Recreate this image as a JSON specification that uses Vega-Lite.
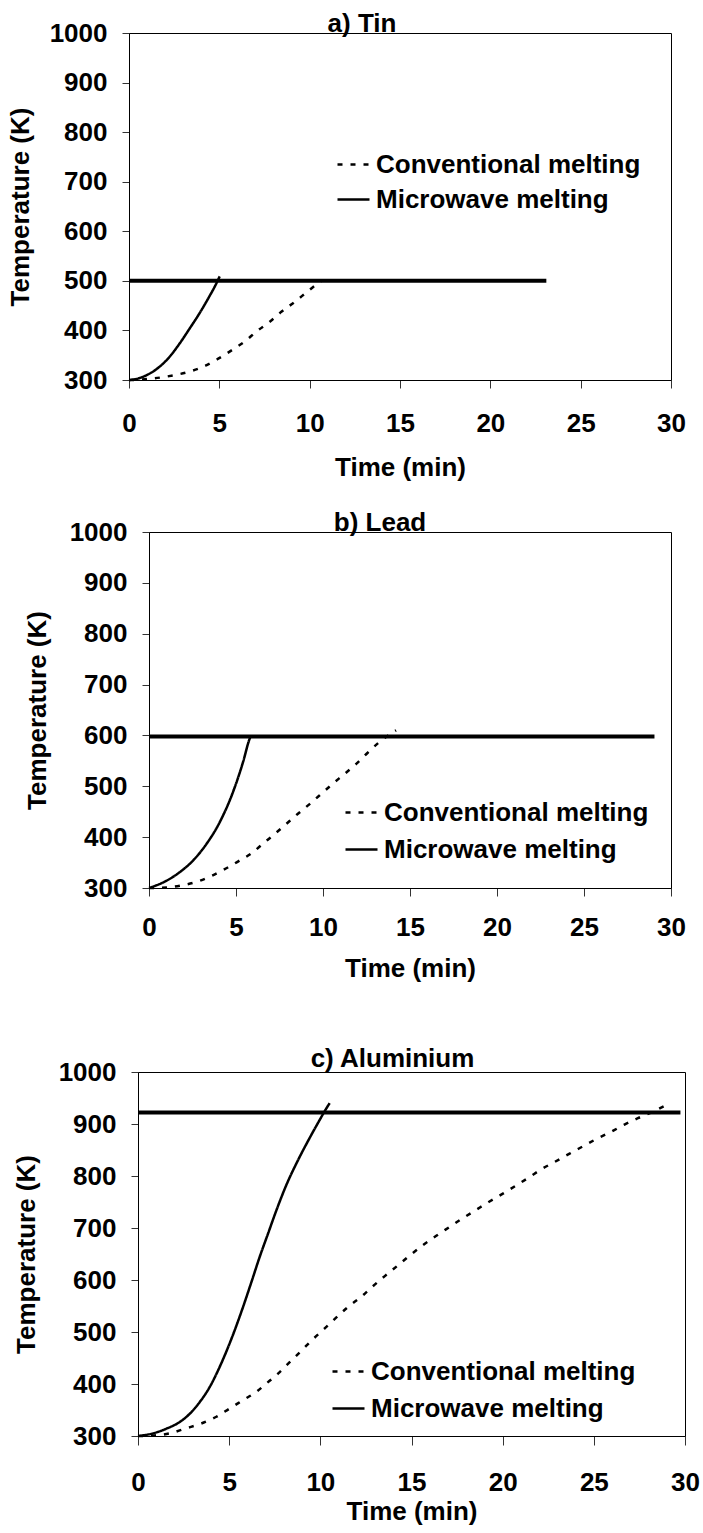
{
  "$schema": "https://vega.github.io/schema/vega-lite/v6.json",
  "background": "white",
  "padding": {"left": 0, "top": 10, "right": 0, "bottom": 0},
  "datasets": {
    "tin": [
      {"series": "Conventional melting", "t": 0, "T": 300},
      {"series": "Conventional melting", "t": 0.5, "T": 300.5},
      {"series": "Conventional melting", "t": 1.06, "T": 302},
      {"series": "Conventional melting", "t": 2.53, "T": 310},
      {"series": "Conventional melting", "t": 3.36, "T": 317},
      {"series": "Conventional melting", "t": 4.3, "T": 330},
      {"series": "Conventional melting", "t": 4.94, "T": 343},
      {"series": "Conventional melting", "t": 5.77, "T": 362},
      {"series": "Conventional melting", "t": 6.42, "T": 378},
      {"series": "Conventional melting", "t": 7.06, "T": 398},
      {"series": "Conventional melting", "t": 7.81, "T": 418},
      {"series": "Conventional melting", "t": 8.45, "T": 438},
      {"series": "Conventional melting", "t": 9.19, "T": 458},
      {"series": "Conventional melting", "t": 9.83, "T": 477},
      {"series": "Conventional melting", "t": 10.46, "T": 495},
      {"series": "Conventional melting", "t": 10.65, "T": 500},
      {"series": "Microwave melting", "t": 0, "T": 300},
      {"series": "Microwave melting", "t": 0.4, "T": 302},
      {"series": "Microwave melting", "t": 0.87, "T": 308},
      {"series": "Microwave melting", "t": 1.7, "T": 327},
      {"series": "Microwave melting", "t": 2.25, "T": 347},
      {"series": "Microwave melting", "t": 2.81, "T": 374},
      {"series": "Microwave melting", "t": 3.36, "T": 404},
      {"series": "Microwave melting", "t": 3.91, "T": 435},
      {"series": "Microwave melting", "t": 4.47, "T": 470},
      {"series": "Microwave melting", "t": 4.74, "T": 488},
      {"series": "Microwave melting", "t": 5.02, "T": 509},
      {"series": "Melting point", "t": 0, "T": 500},
      {"series": "Melting point", "t": 23.1, "T": 500}
    ],
    "lead": [
      {"series": "Conventional melting", "t": 0, "T": 300},
      {"series": "Conventional melting", "t": 1.0, "T": 301},
      {"series": "Conventional melting", "t": 1.86, "T": 305},
      {"series": "Conventional melting", "t": 2.72, "T": 312},
      {"series": "Conventional melting", "t": 3.48, "T": 322},
      {"series": "Conventional melting", "t": 4.35, "T": 337},
      {"series": "Conventional melting", "t": 5.11, "T": 352},
      {"series": "Conventional melting", "t": 5.88, "T": 368},
      {"series": "Conventional melting", "t": 6.55, "T": 387},
      {"series": "Conventional melting", "t": 7.22, "T": 406},
      {"series": "Conventional melting", "t": 7.89, "T": 426},
      {"series": "Conventional melting", "t": 8.56, "T": 446},
      {"series": "Conventional melting", "t": 9.23, "T": 465},
      {"series": "Conventional melting", "t": 9.9, "T": 485},
      {"series": "Conventional melting", "t": 10.56, "T": 505},
      {"series": "Conventional melting", "t": 11.23, "T": 524},
      {"series": "Conventional melting", "t": 11.91, "T": 544},
      {"series": "Conventional melting", "t": 12.57, "T": 566},
      {"series": "Conventional melting", "t": 13.24, "T": 587},
      {"series": "Conventional melting", "t": 14.01, "T": 606},
      {"series": "Conventional melting", "t": 14.2, "T": 610},
      {"series": "Microwave melting", "t": 0, "T": 300},
      {"series": "Microwave melting", "t": 0.99, "T": 314},
      {"series": "Microwave melting", "t": 1.76, "T": 331},
      {"series": "Microwave melting", "t": 2.53, "T": 354},
      {"series": "Microwave melting", "t": 3.29, "T": 386},
      {"series": "Microwave melting", "t": 4.06, "T": 429},
      {"series": "Microwave melting", "t": 4.82, "T": 488},
      {"series": "Microwave melting", "t": 5.4, "T": 547},
      {"series": "Microwave melting", "t": 5.78, "T": 593},
      {"series": "Microwave melting", "t": 5.84, "T": 598},
      {"series": "Melting point", "t": 0, "T": 598},
      {"series": "Melting point", "t": 29.05, "T": 598}
    ],
    "aluminium": [
      {"series": "Conventional melting", "t": 0, "T": 300},
      {"series": "Conventional melting", "t": 0.9, "T": 301},
      {"series": "Conventional melting", "t": 1.74, "T": 305},
      {"series": "Conventional melting", "t": 2.56, "T": 314},
      {"series": "Conventional melting", "t": 3.47, "T": 324},
      {"series": "Conventional melting", "t": 4.3, "T": 337},
      {"series": "Conventional melting", "t": 5.03, "T": 353},
      {"series": "Conventional melting", "t": 5.76, "T": 369},
      {"series": "Conventional melting", "t": 6.49, "T": 385},
      {"series": "Conventional melting", "t": 7.04, "T": 401},
      {"series": "Conventional melting", "t": 7.68, "T": 420},
      {"series": "Conventional melting", "t": 8.32, "T": 442},
      {"series": "Conventional melting", "t": 8.96, "T": 464},
      {"series": "Conventional melting", "t": 9.59, "T": 486},
      {"series": "Conventional melting", "t": 10.24, "T": 507},
      {"series": "Conventional melting", "t": 10.88, "T": 528},
      {"series": "Conventional melting", "t": 11.51, "T": 548},
      {"series": "Conventional melting", "t": 12.25, "T": 568},
      {"series": "Conventional melting", "t": 12.88, "T": 588},
      {"series": "Conventional melting", "t": 13.52, "T": 607},
      {"series": "Conventional melting", "t": 14.25, "T": 628},
      {"series": "Conventional melting", "t": 14.9, "T": 647},
      {"series": "Conventional melting", "t": 15.63, "T": 667},
      {"series": "Conventional melting", "t": 16.36, "T": 685},
      {"series": "Conventional melting", "t": 17.09, "T": 702},
      {"series": "Conventional melting", "t": 17.82, "T": 719},
      {"series": "Conventional melting", "t": 18.55, "T": 735},
      {"series": "Conventional melting", "t": 19.28, "T": 751},
      {"series": "Conventional melting", "t": 20.01, "T": 766},
      {"series": "Conventional melting", "t": 20.75, "T": 782},
      {"series": "Conventional melting", "t": 21.47, "T": 798},
      {"series": "Conventional melting", "t": 22.12, "T": 813},
      {"series": "Conventional melting", "t": 22.85, "T": 827},
      {"series": "Conventional melting", "t": 23.67, "T": 843},
      {"series": "Conventional melting", "t": 24.4, "T": 857},
      {"series": "Conventional melting", "t": 25.13, "T": 871},
      {"series": "Conventional melting", "t": 25.95, "T": 885},
      {"series": "Conventional melting", "t": 26.68, "T": 899},
      {"series": "Conventional melting", "t": 27.47, "T": 912},
      {"series": "Conventional melting", "t": 28.33, "T": 925},
      {"series": "Conventional melting", "t": 29.11, "T": 939},
      {"series": "Microwave melting", "t": 0, "T": 300},
      {"series": "Microwave melting", "t": 0.82, "T": 305},
      {"series": "Microwave melting", "t": 1.55, "T": 314},
      {"series": "Microwave melting", "t": 2.29, "T": 327},
      {"series": "Microwave melting", "t": 2.93, "T": 346},
      {"series": "Microwave melting", "t": 3.38, "T": 365},
      {"series": "Microwave melting", "t": 3.93, "T": 394},
      {"series": "Microwave melting", "t": 4.39, "T": 426},
      {"series": "Microwave melting", "t": 4.84, "T": 462},
      {"series": "Microwave melting", "t": 5.3, "T": 503},
      {"series": "Microwave melting", "t": 5.76, "T": 548},
      {"series": "Microwave melting", "t": 6.22, "T": 596},
      {"series": "Microwave melting", "t": 6.67, "T": 644},
      {"series": "Microwave melting", "t": 7.13, "T": 689},
      {"series": "Microwave melting", "t": 7.59, "T": 734},
      {"series": "Microwave melting", "t": 8.14, "T": 783},
      {"series": "Microwave melting", "t": 8.77, "T": 830},
      {"series": "Microwave melting", "t": 9.32, "T": 867},
      {"series": "Microwave melting", "t": 9.87, "T": 902},
      {"series": "Microwave melting", "t": 10.33, "T": 930},
      {"series": "Microwave melting", "t": 10.51, "T": 940},
      {"series": "Melting point", "t": 0, "T": 922},
      {"series": "Melting point", "t": 29.75, "T": 922}
    ]
  },
  "spacing": 63,
  "resolve": {"scale": {"strokeDash": "independent"}, "legend": {"strokeDash": "independent"}},
  "vconcat": [
    {
      "spacing": 28,
      "resolve": {"scale": {"strokeDash": "independent"}, "legend": {"strokeDash": "independent"}},
      "vconcat": [
        {
          "spacing": 0,
          "hconcat": [
            {"width": 6, "height": 10, "data": {"values": []}, "mark": "point", "view": {"stroke": null}},
            {
              "width": 542,
              "height": 347,
              "title": {"text": "a) Tin", "dx": -38, "offset": -17},
              "data": {"name": "tin"},
              "encoding": {
                "x": {"field": "t", "type": "quantitative", "scale": {"domain": [0, 30], "nice": false},
                      "axis": {"title": "Time (min)", "values": [0, 5, 10, 15, 20, 25, 30], "labelPadding": 22, "titlePadding": 18}},
                "y": {"field": "T", "type": "quantitative", "scale": {"domain": [300, 1000], "nice": false, "zero": false},
                      "axis": {"title": "Temperature (K)", "values": [300, 400, 500, 600, 700, 800, 900, 1000], "titlePadding": 16}}
              },
              "layer": [
                {
                  "transform": [{"filter": "datum.series !== 'Melting point'"}],
                  "mark": {"type": "line", "interpolate": "monotone", "strokeWidth": 2.5, "color": "black"},
                  "encoding": {
                    "strokeDash": {"field": "series", "type": "nominal",
                      "scale": {"domain": ["Conventional melting", "Microwave melting"], "range": [[5, 8], [1, 0]]},
                      "legend": {"orient": "none", "legendX": 336, "legendY": 114, "rowPadding": 4}}
                  }
                },
                {
                  "transform": [{"filter": "datum.series === 'Melting point'"}],
                  "mark": {"type": "line", "strokeWidth": 4, "color": "black"}
                }
              ]
            }
          ]
        },
        {
          "spacing": 0,
          "hconcat": [
            {"width": 23, "height": 10, "data": {"values": []}, "mark": "point", "view": {"stroke": null}},
            {
              "width": 522,
              "height": 356,
              "title": {"text": "b) Lead", "dx": -30, "offset": -17},
              "data": {"name": "lead"},
              "encoding": {
                "x": {"field": "t", "type": "quantitative", "scale": {"domain": [0, 30], "nice": false},
                      "axis": {"title": "Time (min)", "values": [0, 5, 10, 15, 20, 25, 30], "labelPadding": 18, "titlePadding": 15}},
                "y": {"field": "T", "type": "quantitative", "scale": {"domain": [300, 1000], "nice": false, "zero": false},
                      "axis": {"title": "Temperature (K)", "values": [300, 400, 500, 600, 700, 800, 900, 1000], "titlePadding": 19}}
              },
              "layer": [
                {
                  "transform": [{"filter": "datum.series !== 'Melting point'"}],
                  "mark": {"type": "line", "interpolate": "monotone", "strokeWidth": 2.5, "color": "black"},
                  "encoding": {
                    "strokeDash": {"field": "series", "type": "nominal",
                      "scale": {"domain": ["Conventional melting", "Microwave melting"], "range": [[5, 8], [1, 0]]},
                      "legend": {"orient": "none", "legendX": 344, "legendY": 263, "rowPadding": 6}}
                  }
                },
                {
                  "transform": [{"filter": "datum.series === 'Melting point'"}],
                  "mark": {"type": "line", "strokeWidth": 4, "color": "black"}
                }
              ]
            }
          ]
        }
      ]
    },
    {
      "spacing": 0,
      "hconcat": [
        {"width": 12, "height": 10, "data": {"values": []}, "mark": "point", "view": {"stroke": null}},
        {
          "width": 547,
          "height": 364,
          "title": {"text": "c) Aluminium", "dx": -19, "offset": -13},
          "data": {"name": "aluminium"},
          "encoding": {
            "x": {"field": "t", "type": "quantitative", "scale": {"domain": [0, 30], "nice": false},
                  "axis": {"title": "Time (min)", "values": [0, 5, 10, 15, 20, 25, 30], "labelPadding": 24, "titlePadding": 3, "tickSize": 9}},
            "y": {"field": "T", "type": "quantitative", "scale": {"domain": [300, 1000], "nice": false, "zero": false},
                  "axis": {"title": "Temperature (K)", "values": [300, 400, 500, 600, 700, 800, 900, 1000], "titlePadding": 19}}
          },
          "layer": [
            {
              "transform": [{"filter": "datum.series !== 'Melting point'"}],
              "mark": {"type": "line", "interpolate": "monotone", "strokeWidth": 2.5, "color": "black"},
              "encoding": {
                "strokeDash": {"field": "series", "type": "nominal",
                  "scale": {"domain": ["Conventional melting", "Microwave melting"], "range": [[5, 8], [1, 0]]},
                  "legend": {"orient": "none", "legendX": 331, "legendY": 282, "rowPadding": 6}}
              }
            },
            {
              "transform": [{"filter": "datum.series === 'Melting point'"}],
              "mark": {"type": "line", "strokeWidth": 4, "color": "black"}
            }
          ]
        }
      ]
    }
  ],
  "config": {
    "font": "Liberation Sans",
    "view": {"stroke": "black", "strokeWidth": 1},
    "axis": {
      "grid": false,
      "format": "d",
      "domainColor": "black",
      "domainWidth": 1,
      "tickColor": "#333333",
      "tickWidth": 1,
      "tickSize": 7,
      "labelFont": "Liberation Sans",
      "labelFontSize": 26,
      "labelFontWeight": "bold",
      "labelColor": "black",
      "labelPadding": 15,
      "labelFlush": false,
      "labelOverlap": false,
      "titleFont": "Liberation Sans",
      "titleFontSize": 26,
      "titleFontWeight": "bold",
      "titleColor": "black"
    },
    "axisX": {"tickSize": 8},
    "legend": {
      "title": null,
      "symbolType": "stroke",
      "symbolSize": 1024,
      "symbolStrokeWidth": 2.5,
      "symbolStrokeColor": "black",
      "labelFont": "Liberation Sans",
      "labelFontSize": 26,
      "labelFontWeight": "bold",
      "labelColor": "black",
      "labelOffset": 5,
      "labelLimit": 400,
      "padding": 0
    },
    "title": {
      "font": "Liberation Sans",
      "fontSize": 26,
      "fontWeight": "bold",
      "color": "black",
      "anchor": "middle",
      "frame": "group",
      "baseline": "alphabetic"
    }
  }
}
